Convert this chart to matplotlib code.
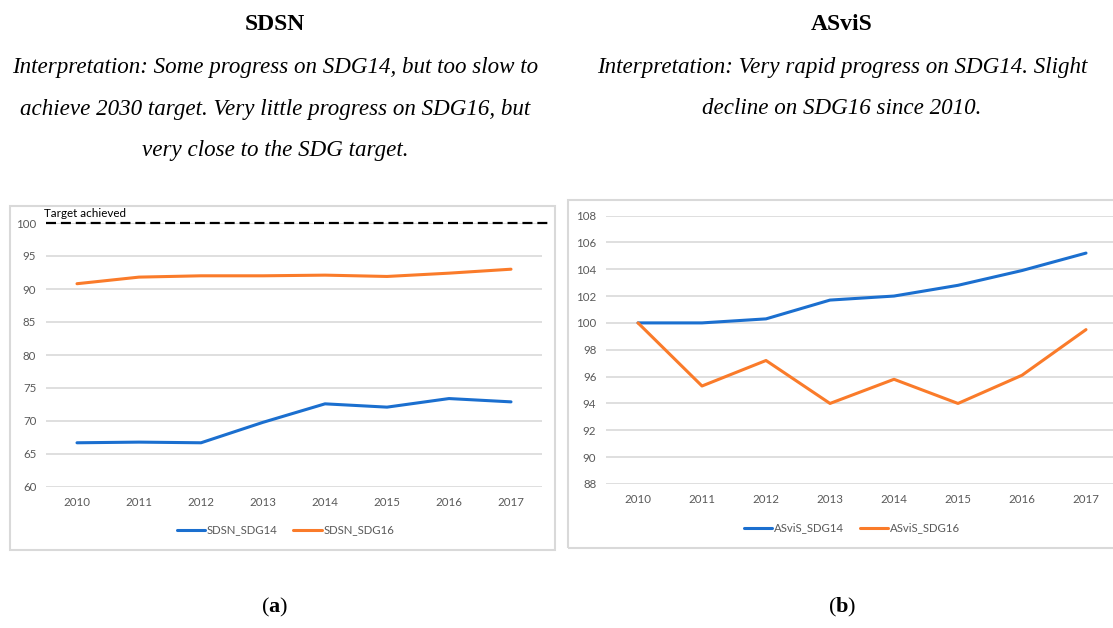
import matplotlib
matplotlib.use("Agg")
import matplotlib.pyplot as plt
from matplotlib.patches import Rectangle

years = ["2010", "2011", "2012", "2013", "2014", "2015", "2016", "2017"]
sdsn_sdg14 = [66.7, 66.8, 66.7, 69.8, 72.6, 72.1, 73.4, 72.9]
sdsn_sdg16 = [90.8, 91.8, 92.0, 92.0, 92.1, 91.9, 92.4, 93.0]
asvis_sdg14 = [100.0, 100.0, 100.3, 101.7, 102.0, 102.8, 103.9, 105.2]
asvis_sdg16 = [100.0, 95.3, 97.2, 94.0, 95.8, 94.0, 96.1, 99.5]
target = 100

plt.rcParams["mathtext.fontset"] = "custom"
plt.rcParams["mathtext.rm"] = "Liberation Serif"
plt.rcParams["mathtext.bf"] = "Liberation Serif:bold"

W, H = 1113, 628
BLUE = "#1B6FCF"
ORANGE = "#FA7B2A"
GRID = "#d9d9d9"
TICK = "#595959"
TFONT = ["Lato", "DejaVu Sans"]
SERIF = ["Liberation Serif", "DejaVu Serif"]

fig = plt.figure(figsize=(W / 100, H / 100), dpi=100)
fig.patch.set_facecolor("white")


def fx(px):
    return px / W


def fy(py):
    return 1 - py / H


# Chart boxes
fig.patches.append(Rectangle((fx(10), fy(550)), fx(555) - fx(10), fy(206) - fy(550),
                             transform=fig.transFigure, fill=False, edgecolor=GRID, lw=1.5))
fig.patches.append(Rectangle((fx(568), fy(548)), fx(1130) - fx(568), fy(200) - fy(548),
                             transform=fig.transFigure, fill=False, edgecolor=GRID, lw=1.5))


def style_axes(ax, ylim, yticks):
    x = list(range(len(years)))
    ax.set_xlim(-0.5, len(years) - 0.5)
    ax.set_ylim(*ylim)
    ax.set_yticks(yticks)
    ax.set_xticks(x)
    ax.set_xticklabels(years)
    for s in ax.spines.values():
        s.set_visible(False)
    ax.tick_params(axis="both", length=0, colors=TICK, labelsize=8.3)
    ax.tick_params(axis="y", pad=7)
    ax.tick_params(axis="x", pad=7.5)
    for lab in ax.get_xticklabels() + ax.get_yticklabels():
        lab.set_family(TFONT)
    ax.grid(axis="y", color=GRID, lw=1.2)
    ax.set_axisbelow(True)
    ax.patch.set_alpha(0)
    return x


LEG = dict(loc="center", bbox_transform=fig.transFigure, ncol=2, frameon=False,
           handlelength=2.5, handletextpad=0.15, columnspacing=1.4,
           prop={"family": TFONT, "size": 8.2}, labelcolor=TICK)

# Left panel (SDSN)
axL = fig.add_axes([fx(46), fy(487), fx(542) - fx(46), fy(223) - fy(487)])
x = style_axes(axL, (60, 100), list(range(60, 101, 5)))
l1, = axL.plot(x, sdsn_sdg14, color=BLUE, lw=2.2, label="SDSN_SDG14", solid_capstyle="round")
l2, = axL.plot(x, sdsn_sdg16, color=ORANGE, lw=2.2, label="SDSN_SDG16", solid_capstyle="round")
axL.axhline(target, xmin=0, xmax=1.012, color="black", lw=1.6, dashes=(4.5, 2.2), clip_on=False, zorder=3)
fig.text(fx(44), fy(213.5), "Target achieved", ha="left", va="center", fontsize=8.4,
         family=TFONT, color="black")
axL.legend(handles=[l1, l2], bbox_to_anchor=(fx(285.5), fy(530)), **LEG)

# Right panel (ASviS)
axR = fig.add_axes([fx(606), fy(484), fx(1118) - fx(606), fy(215.5) - fy(484)])
x = style_axes(axR, (88, 108), list(range(88, 109, 2)))
r1, = axR.plot(x, asvis_sdg14, color=BLUE, lw=2.2, label="ASviS_SDG14", solid_capstyle="round")
r2, = axR.plot(x, asvis_sdg16, color=ORANGE, lw=2.2, label="ASviS_SDG16", solid_capstyle="round")
axR.legend(handles=[r1, r2], bbox_to_anchor=(fx(852), fy(528)), **LEG)

# Headings
fig.text(fx(275), fy(24), "SDSN", ha="center", va="center", fontsize=17,
         fontweight="bold", family=SERIF)
fig.text(fx(842), fy(24), "ASviS", ha="center", va="center", fontsize=17,
         fontweight="bold", family=SERIF)

left_lines = ["Interpretation: Some progress on SDG14, but too slow to",
              "achieve 2030 target. Very little progress on SDG16, but",
              "very close to the SDG target."]
right_lines = ["Interpretation: Very rapid progress on SDG14. Slight",
               "decline on SDG16 since 2010."]
for i, t in enumerate(left_lines):
    fig.text(fx(275), fy(68 + 41 * i), t, ha="center", va="center", fontsize=16.6,
             style="italic", family=SERIF)
for i, t in enumerate(right_lines):
    fig.text(fx(842), fy(68 + 41 * i), t, ha="center", va="center", fontsize=16.6,
             style="italic", family=SERIF)

# Captions
for cx, letter in [(275, "a"), (842, "b")]:
    fig.text(fx(cx), fy(607), r"$\mathrm{(}\mathbf{" + letter + r"}\mathrm{)}$", ha="center",
             va="center", fontsize=16, family=SERIF)

fig.savefig("out.png", dpi=100, facecolor="white")
